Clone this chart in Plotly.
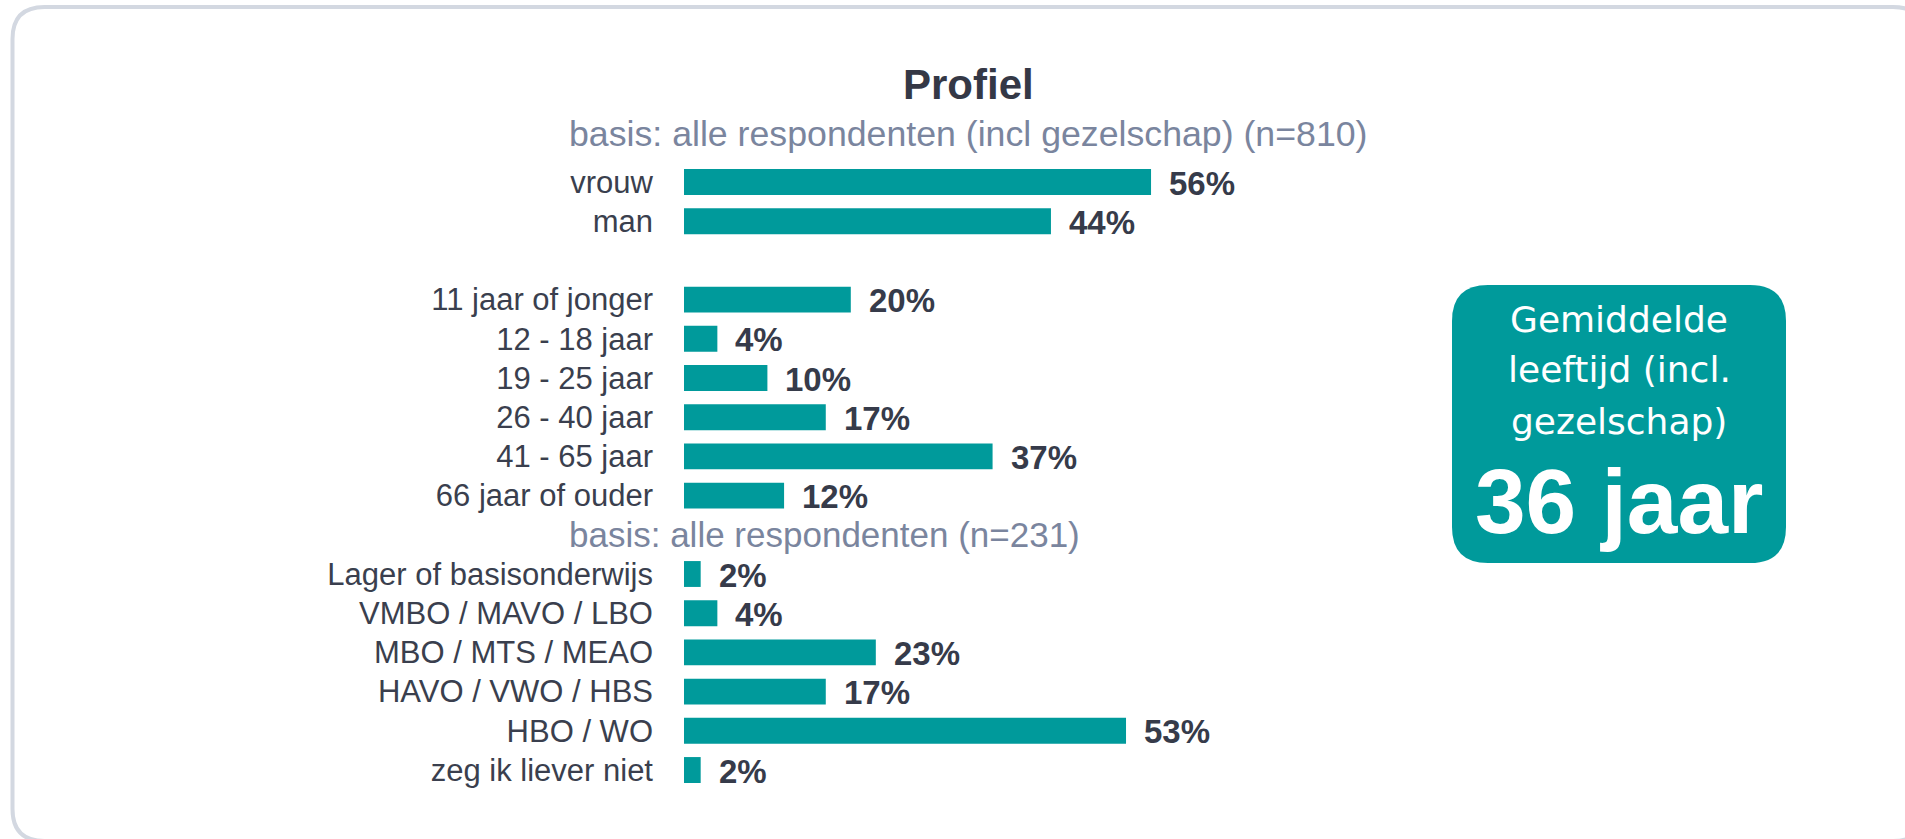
import plotly.graph_objects as go

# ---- data ----
gender_labels = ["vrouw", "man"]
gender_values = [56, 44]
age_labels = ["11 jaar of jonger", "12 - 18 jaar", "19 - 25 jaar", "26 - 40 jaar", "41 - 65 jaar", "66 jaar of ouder"]
age_values = [20, 4, 10, 17, 37, 12]
edu_labels = ["Lager of basisonderwijs", "VMBO / MAVO / LBO", "MBO / MTS / MEAO", "HAVO / VWO / HBS", "HBO / WO", "zeg ik liever niet"]
edu_values = [2, 4, 23, 17, 53, 2]
title_text = "Profiel"
subtitle1_text = "basis: alle respondenten (incl gezelschap) (n=810)"
subtitle2_text = "basis: alle respondenten (n=231)"
box_lines = ["Gemiddelde", "leeftijd (incl.", "gezelschap)"]
box_value = "36 jaar"

W, H = 1905, 839
TEAL = "#009a9b"
DARK = "#363b4a"
SUBC = "#7a859e"
FONT = "Liberation Sans, Arial, sans-serif"

# row layout: gender rows, blank row, age rows, subtitle row, education rows
g_pos = list(range(len(gender_labels)))
a_start = len(gender_labels) + 1
a_pos = [a_start + i for i in range(len(age_labels))]
sub2_row = a_pos[-1] + 1
e_pos = [sub2_row + 1 + i for i in range(len(edu_labels))]
n_rows = e_pos[-1] + 1

labels = gender_labels + age_labels + edu_labels
values = gender_values + age_values + edu_values
positions = g_pos + a_pos + e_pos

def px_x(x):
    return x / W

def px_y(y):
    return 1 - y / H

row0 = 182.0
row_h = 39.2
y_top = row0 - row_h / 2
y_bot = row0 + (n_rows - 1) * row_h + row_h / 2

x0_px = 684.0
px_per_pct = 8.34

fig = go.Figure()
fig.add_trace(go.Bar(
    x=values, y=positions, orientation="h",
    marker=dict(color=TEAL, line=dict(width=0)),
    width=0.66, hoverinfo="skip",
))

annotations = []
for v, p in zip(values, positions):
    annotations.append(dict(
        x=v, y=p, xref="x", yref="y", text=f"<b>{v}%</b>", showarrow=False,
        xanchor="left", yanchor="middle", xshift=16, yshift=-1,
        font=dict(family=FONT, size=33, color=DARK),
    ))

annotations.append(dict(
    x=px_x(968), y=px_y(84.5), xref="paper", yref="paper", text=f"<b>{title_text}</b>",
    showarrow=False, xanchor="center", yanchor="middle",
    font=dict(family=FONT, size=42, color="#343846"),
))
annotations.append(dict(
    x=px_x(567), y=px_y(133.5), xref="paper", yref="paper", text=subtitle1_text,
    showarrow=False, xanchor="left", yanchor="middle",
    font=dict(family=FONT, size=35.7, color=SUBC),
))
annotations.append(dict(
    x=px_x(567), y=sub2_row, xref="paper", yref="y", text=subtitle2_text,
    showarrow=False, xanchor="left", yanchor="middle",
    font=dict(family=FONT, size=35, color=SUBC),
))

# info box
bx0, bx1, by0, by1, br = 1452, 1786, 285, 563, 36
box_cx = (bx0 + bx1) / 2
for line, yc in zip(box_lines, [319, 369, 421]):
    annotations.append(dict(
        x=px_x(box_cx), y=px_y(yc), xref="paper", yref="paper", text=line,
        showarrow=False, xanchor="center", yanchor="middle",
        font=dict(family="DejaVu Sans, sans-serif", size=36, color="white"),
    ))
annotations.append(dict(
    x=px_x(box_cx), y=px_y(501), xref="paper", yref="paper", text=f"<b>{box_value}</b>",
    showarrow=False, xanchor="center", yanchor="middle",
    font=dict(family=FONT, size=91, color="white"),
))

def rounded_path(x0, y0, x1, y1, r):
    X = px_x
    Y = px_y
    return (f"M {X(x0 + r)} {Y(y0)} L {X(x1 - r)} {Y(y0)} "
            f"Q {X(x1)} {Y(y0)} {X(x1)} {Y(y0 + r)} L {X(x1)} {Y(y1 - r)} "
            f"Q {X(x1)} {Y(y1)} {X(x1 - r)} {Y(y1)} L {X(x0 + r)} {Y(y1)} "
            f"Q {X(x0)} {Y(y1)} {X(x0)} {Y(y1 - r)} L {X(x0)} {Y(y0 + r)} "
            f"Q {X(x0)} {Y(y0)} {X(x0 + r)} {Y(y0)} Z")

shapes = [
    dict(type="path", xref="paper", yref="paper", path=rounded_path(12.5, 7, 1925, 841, 32),
         line=dict(color="#d3d8e1", width=4), fillcolor="rgba(0,0,0,0)", layer="below"),
    dict(type="path", xref="paper", yref="paper", path=rounded_path(bx0, by0, bx1, by1, br),
         line=dict(width=0), fillcolor=TEAL, layer="below"),
]

fig.update_layout(
    width=W, height=H, margin=dict(l=0, r=0, t=0, b=0),
    paper_bgcolor="white", plot_bgcolor="rgba(0,0,0,0)",
    showlegend=False, annotations=annotations, shapes=shapes,
    xaxis=dict(domain=[px_x(x0_px), px_x(x0_px + 100 * px_per_pct)], range=[0, 100],
               showgrid=False, zeroline=False, showticklabels=False, showline=False, fixedrange=True),
    yaxis=dict(domain=[px_y(y_bot), px_y(y_top)], range=[n_rows - 0.5, -0.5],
               tickvals=positions, ticktext=labels, ticks="", ticklabelstandoff=30,
               tickfont=dict(family=FONT, size=31, color="#3a3f4e"),
               showgrid=False, zeroline=False, showline=False, fixedrange=True),
)

fig.write_html("out.html", config={"displayModeBar": False},
               post_script="document.body.style.margin='0';document.body.style.overflow='hidden';")
